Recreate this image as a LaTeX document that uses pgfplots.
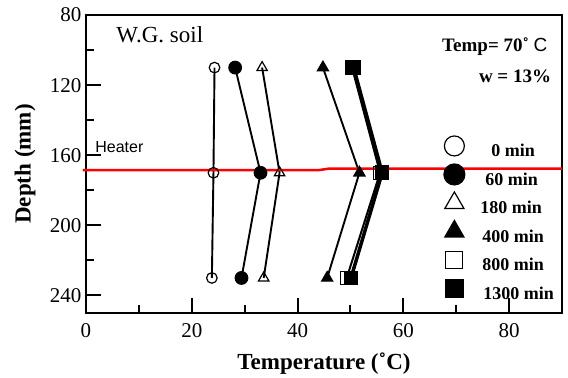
\documentclass[border=0pt]{standalone}
\usepackage{pgfplots}
\pgfplotsset{compat=1.18}
\usepackage{fontspec}
\setmainfont{Liberation Serif}
\newfontfamily\arialfont{Liberation Sans}

% legend entry: one mark of its own size, with a fixed small box
\pgfplotsset{
  legmark/.style={legend image code/.code={%
    \begin{pgfinterruptboundingbox}
      \draw[##1, mark size=#1] plot coordinates {(0bp,6bp)};
    \end{pgfinterruptboundingbox}
    \path[draw=none, fill=none] (-12bp,0bp) rectangle (12bp,8bp);}},
}

\begin{document}
\begin{tikzpicture}
\begin{axis}[
  name=ax,
  scale only axis,
  width=476bp, height=298bp,
  xmin=0, xmax=90, ymin=80, ymax=250,
  y dir=reverse,
  clip=false,
  xtick={0,20,40,60,80}, minor xtick={10,30,50,70},
  ytick={80,120,160,200,240}, minor ytick={100,140,180,220},
  tick pos=left,
  tick align=inside,
  major tick length=15bp, minor tick length=8bp,
  every tick/.style={black, line width=2bp},
  axis line style={line width=2.5bp},
  /pgf/number format/assume math mode=true,
  tick label style={font=\rmfamily\fontsize{21bp}{25bp}\selectfont},
  xticklabel style={yshift=-7bp},
  yticklabel style={xshift=-1bp},
  xlabel={Temperature (˚C)},
  ylabel={Depth (mm)},
  label style={font=\bfseries\fontsize{23bp}{27bp}\selectfont},
  xlabel style={at={(rel axis cs:0.5,-0.188)}, anchor=base},
  ylabel style={at={(rel axis cs:-0.128,0.5)}, anchor=center},
  legend style={
    at={(rel axis cs:0.742,0.578)}, anchor=north west,
    draw=none, fill=none,
    font=\bfseries\fontsize{18bp}{20bp}\selectfont,
    nodes={inner sep=0pt, text height=14bp, text depth=4bp},
    row sep=10.5bp,
    column sep=14bp,
  },
  legend cell align=left,
  mark options={solid, line width=1.2bp},
]
\addplot[black, line width=1.9bp, mark=o, mark size=5.3bp, legmark=10bp]
  coordinates {(24.3,110) (24.1,170) (23.8,230)};
\addlegendentry{\hspace*{11bp}0 min}
\addplot[black, line width=1.9bp, mark=*, mark size=6.3bp, legmark=10.5bp]
  coordinates {(28.2,110) (33.0,170) (29.4,230)};
\addlegendentry{\hspace*{5bp}60 min}
\addplot[black, line width=1.9bp, mark=triangle, mark size=6bp, legmark=11bp]
  coordinates {(33.3,110) (36.6,170) (33.6,230)};
\addlegendentry{180 min}
\addplot[black, line width=1.9bp, mark=triangle*, mark size=6.4bp, legmark=11bp]
  coordinates {(44.8,110) (51.7,170) (45.6,230)};
\addlegendentry{\hspace*{2bp}400 min}
\addplot[black, line width=2bp, mark=square, mark size=6.5bp, legmark=8.5bp]
  coordinates {(50.3,110) (55.6,170) (49.3,230)};
\addlegendentry{\hspace*{2bp}800 min}
\addplot[black, line width=3.5bp, mark=square*, mark size=6.7bp, legmark=8.8bp]
  coordinates {(50.6,110) (56.0,170) (50.1,230)};
\addlegendentry{\hspace*{3bp}1300 min}

% heater position
\addplot[red, line width=2.5bp, forget plot]
  coordinates {(-0.6,168.5) (44,168.5) (46,167.6) (90,167.6)};

\node[anchor=base west, font=\arialfont\fontsize{16bp}{18bp}\selectfont]
  at (axis cs:1.1,158.7) {Heater};
\node[anchor=base west, font=\fontsize{23bp}{26bp}\selectfont]
  at (axis cs:5.1,95.9) {W.G. soil};
\node[anchor=base east, font=\bfseries\fontsize{19bp}{22bp}\selectfont]
  at (axis cs:87.9,101) {Temp= 70˚ {\arialfont\mdseries C}};
\node[anchor=base east, font=\bfseries\fontsize{19bp}{22bp}\selectfont]
  at (axis cs:88.6,118.7) {w = 13\%};
\end{axis}
\pgfresetboundingbox
\path[use as bounding box]
  ([shift={(-86bp,-65bp)}]ax.south west) rectangle ([shift={(6bp,15bp)}]ax.north east);
\end{tikzpicture}
\end{document}
